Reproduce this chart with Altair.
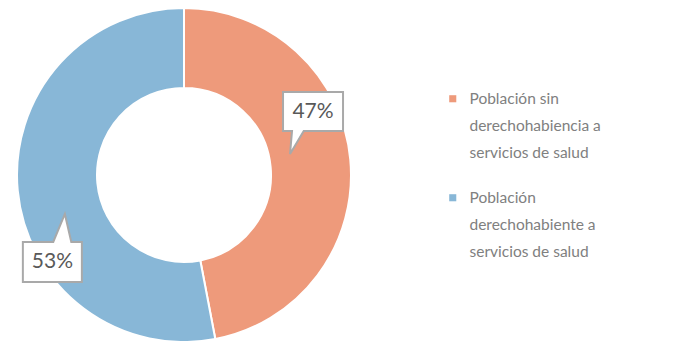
import altair as alt
import pandas as pd

# ---- data ----
categories = [
    "Población sin\nderechohabiencia a\nservicios de salud",
    "Población\nderechohabiente a\nservicios de salud",
]
values = [47, 53]
pct_labels = ["47%", "53%"]
order_idx = [0, 1]
colors = ["#EE9A7B", "#88B7D7"]

df = pd.DataFrame({"cat": categories, "value": values, "label": pct_labels, "idx": order_idx})

# ---- layout / style ----
W, H = 334, 332
R_OUT = 167
R_IN = 87
R_LAB = 0.66  # callout anchor radius (fraction of outer radius)
FONT = "Lato"

base = alt.Chart(df)

color = alt.Color(
    "cat:N",
    scale=alt.Scale(domain=categories, range=colors),
    legend=alt.Legend(
        title=None,
        orient="none",
        legendX=428,
        legendY=82,
        symbolType="square",
        symbolSize=50,
        symbolStrokeWidth=0,
        labelFont=FONT,
        labelFontSize=15.5,
        labelColor="#808080",
        labelLimit=0,
        labelOffset=9,
        labelBaseline="middle",
        labelExpr="split(datum.label, '\\n')",
        rowPadding=28,
    ),
)

arcs = base.mark_arc(outerRadius=R_OUT, innerRadius=R_IN, stroke="white", strokeWidth=2).encode(
    theta=alt.Theta("value:Q", stack=True),
    color=color,
    order=alt.Order("idx:Q"),
)

xs = alt.Scale(domain=[-1, 1], nice=False, zero=False)
ys = alt.Scale(domain=[-(H / 2) / R_OUT, (H / 2) / R_OUT], nice=False, zero=False)

pos = (
    base.transform_joinaggregate(total="sum(value)")
    .transform_window(cum="sum(value)", sort=[alt.SortField("idx")], frame=[None, 0])
    .transform_calculate(ang="2*PI*(datum.cum - datum.value/2)/datum.total")
    .transform_calculate(px=f"{R_LAB}*sin(datum.ang)", py=f"{R_LAB}*cos(datum.ang)")
)

enc = dict(x=alt.X("px:Q", scale=xs, axis=None), y=alt.Y("py:Q", scale=ys, axis=None))

# callout shapes (pixel units, size=4 => scale 1)
path0 = "M -10.7 -72.6 L 49.3 -72.6 L 49.3 -33.6 L 10 -33.6 L -3.7 -10.6 L -1.7 -33.6 L -10.7 -33.6 Z"
path1 = "M -51.4 56.6 L -21 56.6 L -9.4 28.6 L -3 56.6 L 7.6 56.6 L 7.6 96.6 L -51.4 96.6 Z"

box_style = dict(filled=True, fill="white", stroke="#A9A9A9", strokeWidth=2, opacity=1, size=4)

box0 = pos.transform_filter("datum.idx == 0").mark_point(shape=path0, **box_style).encode(**enc)
box1 = pos.transform_filter("datum.idx == 1").mark_point(shape=path1, **box_style).encode(**enc)

txt_style = dict(font=FONT, fontSize=21, color="#595959", align="center", baseline="middle")
txt0 = pos.transform_filter("datum.idx == 0").mark_text(dx=19.3, dy=-52.5, **txt_style).encode(
    text="label:N", **enc
)
txt1 = pos.transform_filter("datum.idx == 1").mark_text(dx=-21.9, dy=77, **txt_style).encode(
    text="label:N", **enc
)

chart = (
    alt.layer(arcs, box0, box1, txt0, txt1)
    .properties(
        width=W,
        height=H,
        padding={"left": 17, "top": 9, "right": 325, "bottom": 0},
        autosize=alt.AutoSizeParams(type="none"),
        background="white",
    )
    .configure(
        style={"guide-label": {"lineHeight": 27}},
        view=alt.ViewConfig(strokeWidth=0, stroke="transparent"),
    )
)

chart.save("out.html", embed_options={"renderer": "svg", "actions": False})
